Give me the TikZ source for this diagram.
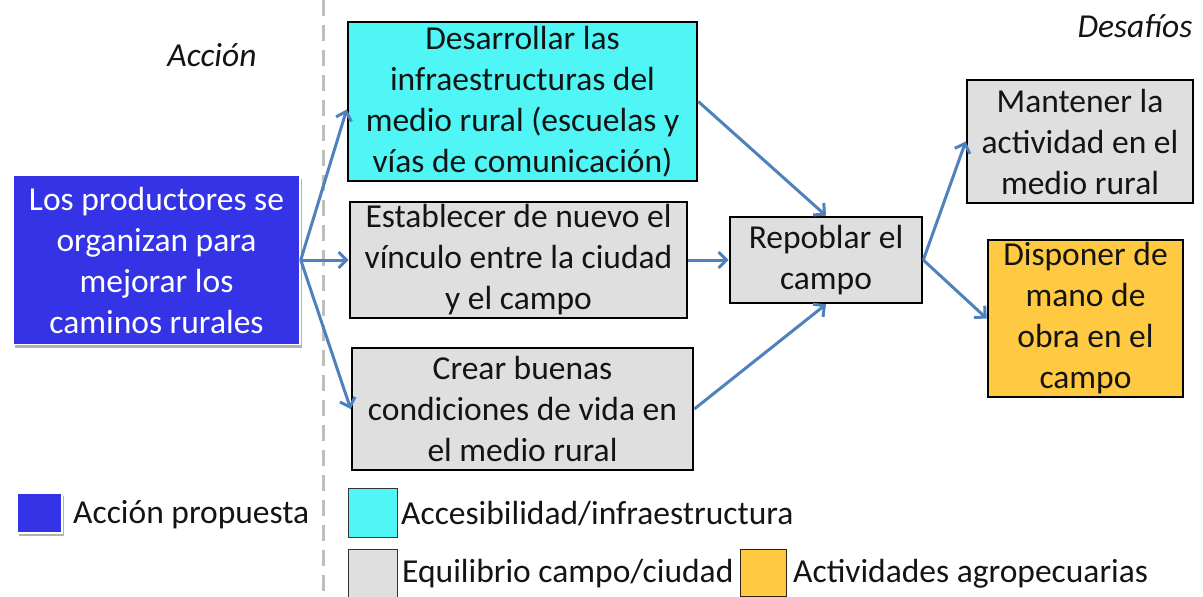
\documentclass[tikz,border=0pt]{standalone}
\usepackage{fontspec}
\setmainfont{Carlito}
\usetikzlibrary{arrows.meta,shadows,positioning}
\definecolor{actblue}{RGB}{52,52,230}
\definecolor{cyanfill}{RGB}{80,245,245}
\definecolor{grayfill}{RGB}{223,223,223}
\definecolor{yellowfill}{RGB}{255,202,66}
\definecolor{arrowcol}{RGB}{79,129,189}
\definecolor{dashcol}{RGB}{190,190,190}
\tikzset{
  txt/.style={font=\fontsize{33.5}{41}\selectfont, text=black!92},
  box/.style={txt, draw=black, line width=2.6pt, align=center, inner sep=0pt, anchor=center},
  actbox/.style={txt, text=white, fill=actblue, draw=white, line width=1.5pt, align=center, inner sep=0pt,
    general shadow={fill=black!30, shadow xshift=1.5pt, shadow yshift=-3pt}},
  conn/.style={draw=arrowcol, line width=3pt, -{Straight Barb[length=8pt,width=16pt,line width=3pt]}},
  legsq/.style={draw=black!80, line width=1pt, inner sep=0pt},
  legtxt/.style={txt, anchor=west, inner sep=0pt},
  heading/.style={txt, font=\fontsize{33.5}{41}\selectfont\itshape, inner sep=0pt}
}
\begin{document}
\begin{tikzpicture}[x=1pt,y=-1pt]
\useasboundingbox (0,0) rectangle (1203,597);
% dashed separator
\draw[dashcol, line width=3pt, dash pattern=on 16pt off 9pt] (323,0) -- (323,597);
% headings
\node[heading] (accion) at (212,55) {Acción};
\node[heading] (desafios) at (1135,26) {Desafíos};
% boxes
\node[actbox, minimum width=287pt, minimum height=169pt] (act) at (156.5,260)
  {Los productores se\\organizan para\\mejorar los\\caminos rurales};
\node[box, fill=cyanfill, minimum width=349pt, minimum height=159pt] (infra) at (522.5,101.5)
  {Desarrollar las\\infraestructuras del\\medio rural (escuelas y\\vías de comunicación)};
\node[box, fill=grayfill, minimum width=337pt, minimum height=116pt] (vinc) at (518.5,260)
  {Establecer de nuevo el\\vínculo entre la ciudad\\y el campo};
\node[box, fill=grayfill, minimum width=341pt, minimum height=122pt] (cond) at (522.5,409)
  {Crear buenas\\condiciones de vida en\\el medio rural};
\node[box, fill=grayfill, minimum width=192pt, minimum height=86pt] (repo) at (826,260)
  {Repoblar el\\campo};
\node[box, fill=grayfill, minimum width=226pt, minimum height=123pt] (mant) at (1080,141.5)
  {Mantener la\\actividad en el\\medio rural};
\node[box, fill=yellowfill, minimum width=195pt, minimum height=157pt] (disp) at (1085.5,318.5)
  {Disponer de\\mano de\\obra en el\\campo};
% connectors
\draw[conn] (act.east) -- ([yshift=-8pt]infra.west);
\draw[conn] (act.east) -- (vinc.west);
\draw[conn] (act.east) -- (cond.west);
\draw[conn] (infra.east) -- (repo.north);
\draw[conn] (vinc.east) -- (repo.west);
\draw[conn] (cond.east) -- (repo.south);
\draw[conn] (repo.east) -- (mant.west);
\draw[conn] (repo.east) -- (disp.west);
% legend
\node[legsq, fill=actblue, draw=white, line width=1.5pt, minimum width=45pt, minimum height=40pt,
  general shadow={fill=black!30, shadow xshift=1.5pt, shadow yshift=-3pt}] (lact) at (39.5,513) {};
\node[legtxt] (lacttxt) at (73,515) {Acción propuesta};
\node[legsq, fill=cyanfill, minimum width=49pt, minimum height=49pt] (linfra) at (372.5,512.5) {};
\node[legtxt] (linfratxt) at (401,514) {Accesibilidad/infraestructura};
\node[legsq, fill=grayfill, minimum width=49pt, minimum height=49pt] (lgray) at (372.5,574) {};
\node[legtxt] (lgraytxt) at (402,574) {Equilibrio campo/ciudad};
\node[legsq, fill=yellowfill, draw=black!75!brown, minimum width=46pt, minimum height=47pt] (lyel) at (763,572.5) {};
\node[legtxt] (lyeltxt) at (793,574) {Actividades agropecuarias};
\end{tikzpicture}
\end{document}
